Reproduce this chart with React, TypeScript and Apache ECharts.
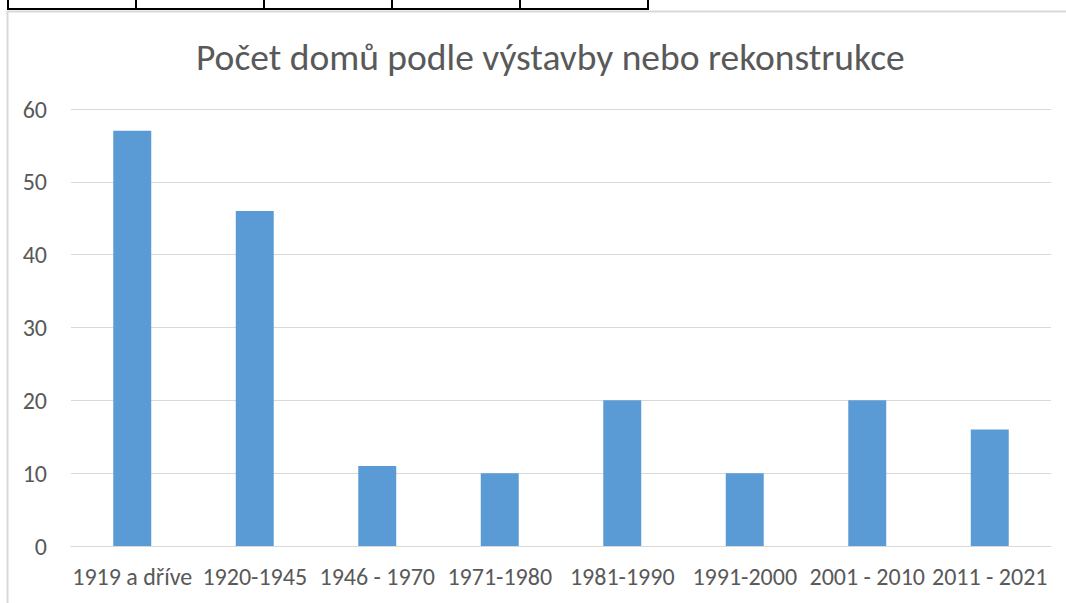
import React, { useEffect, useRef } from "react";
import * as echarts from "echarts";

const categories = ["1919 a dříve", "1920-1945", "1946 - 1970", "1971-1980", "1981-1990", "1991-2000", "2001 - 2010", "2011 - 2021"];
const values = [57, 46, 11, 10, 20, 10, 20, 16];
const title = "Počet domů podle výstavby nebo rekonstrukce";
const tableColumnX = [8, 136, 264, 392, 520, 648];

export default function App() {
  const ref = useRef<HTMLDivElement>(null);
  useEffect(() => {
    if (!ref.current) return;
    const chart = echarts.init(ref.current, null, { renderer: "svg" });
    const font = "Carlito, Lato, 'Open Sans', 'Liberation Sans', sans-serif";
    const graphics: any[] = [
      {
        type: "rect",
        shape: { x: 7.5, y: 11.5, width: 1100, height: 700 },
        style: { fill: "none", stroke: "#d9d9d9", lineWidth: 2 },
        silent: true,
      },
      {
        type: "line",
        shape: { x1: tableColumnX[0], y1: 9, x2: tableColumnX[tableColumnX.length - 1] + 1, y2: 9 },
        style: { stroke: "#000", lineWidth: 2 },
      },
      ...tableColumnX.map((x) => ({
        type: "line",
        shape: { x1: x, y1: 0, x2: x, y2: 10 },
        style: { stroke: "#000", lineWidth: 2 },
      })),
    ];
    chart.setOption({
      animation: false,
      backgroundColor: "#fff",
      title: {
        text: title,
        left: 191,
        top: 33,
        textStyle: { fontFamily: font, fontSize: 37.5, fontWeight: 300, color: "#595959" },
      },
      grid: { left: 71, right: 15, top: 109, bottom: 57 },
      xAxis: {
        type: "category",
        data: categories,
        axisLine: { lineStyle: { color: "#d9d9d9", width: 1 } },
        axisTick: { show: false },
        axisLabel: { fontFamily: font, fontSize: 24, color: "#595959", margin: 18, interval: 0 },
      },
      yAxis: {
        type: "value",
        min: 0,
        max: 60,
        interval: 10,
        axisLine: { show: false },
        axisTick: { show: false },
        splitLine: { lineStyle: { color: "#d9d9d9", width: 1 } },
        axisLabel: { fontFamily: font, fontSize: 24, color: "#595959", margin: 24 },
      },
      series: [
        {
          type: "bar",
          data: values,
          barWidth: "31%",
          itemStyle: { color: "#5b9bd5" },
        },
      ],
      graphic: graphics,
    });
    return () => chart.dispose();
  }, []);
  return <div ref={ref} style={{ position: "absolute", left: 0, top: 0, width: 1066, height: 603 }} />;
}
